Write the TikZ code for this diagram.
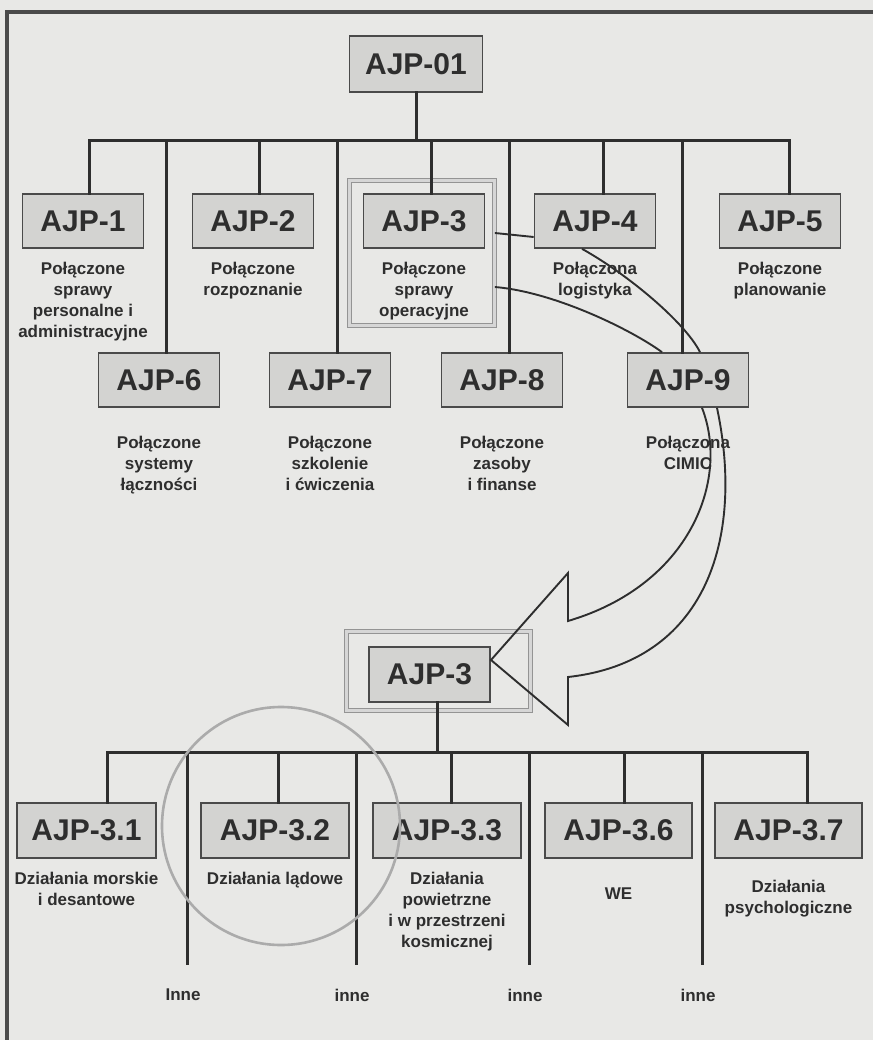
\documentclass[tikz,border=0pt]{standalone}
\usepackage{fontspec}
\setmainfont{Liberation Sans}
\usetikzlibrary{positioning}
\definecolor{Paper}{HTML}{E8E8E6}
\definecolor{BoxFill}{HTML}{D3D3D1}
\definecolor{Ink}{HTML}{2E2E2E}
\definecolor{Edge}{HTML}{4A4A4A}

\begin{document}
\begin{tikzpicture}[x=1pt, y=-1pt,
ajp/.style={
	rectangle,
	draw=Edge,
	line width=1.7pt,
	fill=BoxFill,
	minimum width=121pt,
	minimum height=54pt,
	inner sep=0pt,
	font=\fontsize{30}{30}\selectfont\bfseries,
	text=Ink},
desc/.style={
	align=center,
	inner sep=0pt,
	font=\fontsize{17}{21}\selectfont\bfseries,
	text=Ink},
dblframe/.style={
	rectangle,
	draw=black!42,
	line width=0.7pt,
	double=black!16,
	double distance=3.5pt},
bus/.style={
	draw=Ink,
	line cap=rect,
	line width=3pt},
link/.style={
	draw=Ink,
	line width=1.9pt},
hollow/.style={
	draw=Ink,
	line width=1.9pt,
	line join=miter},
ring/.style={
	draw=black!33,
	line width=2.6pt}]

\fill[Paper] (0,0) rectangle (873,1040);
\useasboundingbox (0,0) rectangle (873,1040);
\draw[Edge, line width=3.5pt] (7,1040) -- (7,12) -- (873,12);

%Top level
\node[ajp, minimum width=133pt, minimum height=56pt] (A0) at (416,64) {AJP-01};

\node[dblframe, minimum width=145pt, minimum height=145pt] (F3) at (422,253) {};

\foreach \n/\x/\t in {A1/83/1, A2/253/2, A3/424/3, A4/595/4, A5/780/5}{
	\node[ajp] (\n) at (\x,221) {AJP-\t};
}
\foreach \n/\x/\t in {A6/159/6, A7/330/7, A8/502/8, A9/688/9}{
	\node[ajp] (\n) at (\x,380) {AJP-\t};
}

\node[desc, below=13pt of A1] (dA1) {Połączone\\sprawy\\personalne i\\administracyjne};
\node[desc, below=13pt of A2] (dA2) {Połączone\\rozpoznanie};
\node[desc, below=13pt of A3] (dA3) {Połączone\\sprawy\\operacyjne};
\node[desc, below=13pt of A4] (dA4) {Połączona\\logistyka};
\node[desc, below=13pt of A5] (dA5) {Połączone\\planowanie};
\node[desc, below=28pt of A6] (dA6) {Połączone\\systemy\\łączności};
\node[desc, below=28pt of A7] (dA7) {Połączone\\szkolenie\\i ćwiczenia};
\node[desc, below=28pt of A8] (dA8) {Połączone\\zasoby\\i finanse};
\node[desc, below=28pt of A9] (dA9) {Połączona\\CIMIC};

\coordinate (top) at (416,141);
\draw[bus] (A0) -- (top);
\foreach \n/\x in {A1/89, A6/166, A2/259, A7/337, A3/431, A8/509, A4/603, A9/682, A5/789}{
	\coordinate (bus\n) at (\x,141);
	\draw[bus] (bus\n) -- (bus\n |- \n.north);
}
\draw[bus] (busA1) -- (busA5);

\draw[link] ([yshift=20pt]F3.east) -- ([yshift=-16pt]A4.west);
\draw[link] ([yshift=-34pt]F3.east) .. controls +(60,5) and +(-30,-22) .. ([xshift=-26pt]A9.north);
\draw[link] ([xshift=-13pt]A4.south) .. controls +(45,25) and +(-15,-30) .. ([xshift=12pt]A9.north);

%Lower level
\node[dblframe, minimum width=184pt, minimum height=79pt] (FB) at (438.5,671) {};
\node[ajp, minimum height=55pt] (B3) at (429.5,674.5) {AJP-3};

\draw[hollow] ([xshift=14pt]A9.south) .. controls (730,480) and (690,585) .. (568,621)
	-- (568,573) -- (491,660) -- (568,725) -- (568,677)
	.. controls (705,662) and (745,540) .. ([xshift=29pt]A9.south);

\foreach \i/\x/\w/\t in {31/86.5/139pt/3.1, 32/275/148pt/3.2, 33/447/148pt/3.3, 36/618.5/147pt/3.6, 37/788.5/147pt/3.7}{
	\node[ajp, minimum width=\w, minimum height=55pt] (B\i) at (\x,830.5) {AJP-\t};
}

\node[desc, below=13pt of B31] (dB31) {Działania morskie\\i desantowe};
\node[desc, below=13pt of B32] (dB32) {Działania lądowe};
\node[desc, below=13pt of B33] (dB33) {Działania\\powietrzne\\i w przestrzeni\\kosmicznej};
\node[desc, below=29pt of B36] (dB36) {WE};
\node[desc, below=21pt of B37] (dB37) {Działania\\psychologiczne};

\coordinate (low) at (437,752);
\draw[bus] (B3.south -| low) -- (low);
\foreach \n/\x in {B31/107, B32/278, B33/451, B36/624, B37/807}{
	\coordinate (bus\n) at (\x,752);
	\draw[bus] (bus\n) -- (bus\n |- \n.north);
}
\draw[bus] (busB31) -- (busB37);

\foreach \i/\x/\t in {1/187/Inne, 2/356/inne, 3/529/inne, 4/702/inne}{
	\coordinate (busI\i) at (\x,752);
	\coordinate (endI\i) at (\x,963);
	\draw[bus] (busI\i) -- (endI\i);
	\node[desc, below=26pt of endI\i, xshift=-4pt] (I\i) {\t};
}

\draw[ring] (281,826) circle[radius=119pt];
\end{tikzpicture}
\end{document}
